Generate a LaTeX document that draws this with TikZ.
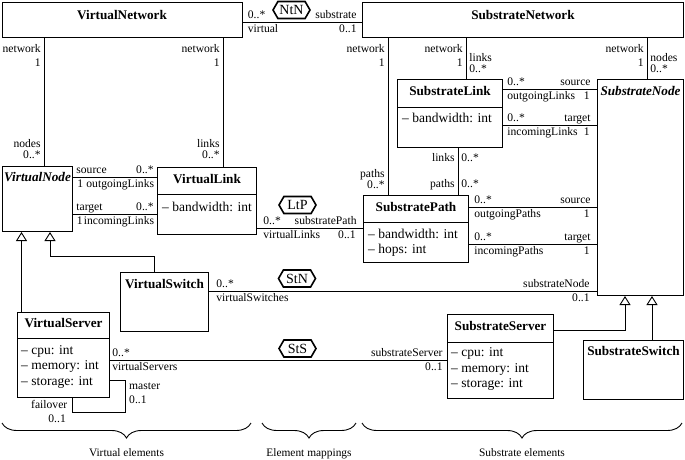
\documentclass[tikz,border=0pt]{standalone}
\usepackage{fontspec}
\setmainfont{Liberation Serif}
\usetikzlibrary{positioning,arrows.meta,shapes.symbols,decorations.pathreplacing,calc}

\begin{document}
\begin{tikzpicture}[
    x=1pt, y=-1pt,
    cls/.style={draw, line width=1pt, inner sep=0pt, anchor=north west},
    clsname/.style={font=\fontsize{13.2}{15}\selectfont\bfseries, anchor=base, inner sep=0pt},
    absname/.style={font=\fontsize{13.2}{15}\selectfont\bfseries\itshape, anchor=base, inner sep=0pt},
    attr/.style={font=\fontsize{13.5}{15.5}\selectfont, align=left, anchor=north west, inner sep=0pt},
    divider/.style={line width=0.9pt},
    assoc/.style={line width=0.8pt},
    gen/.style={line width=0.9pt, -{Triangle[open, width=11pt, length=9pt]}},
    maptag/.style={draw, line width=1.6pt, shape=signal, signal to=west and east, signal pointer angle=120, minimum width=37pt, minimum height=17pt, inner xsep=1pt, inner ysep=0pt, font=\fontsize{14}{16}\selectfont},
    lab/.style={font=\fontsize{11.6}{13}\selectfont, inner sep=0pt},
    su/.style={lab, pos=0, anchor=base west, shift={(#1,3.5pt)}}, su/.default=5pt,
    sd/.style={lab, pos=0, anchor=base west, shift={(#1,-10pt)}}, sd/.default=5pt,
    tu/.style={lab, pos=1, anchor=base east, shift={(-#1,3.5pt)}}, tu/.default=5pt,
    td/.style={lab, pos=1, anchor=base east, shift={(-#1,-10pt)}}, td/.default=5pt,
    topl/.style={lab, pos=0, anchor=base east, shift={(-3pt,#1)}},
    topr/.style={lab, pos=0, anchor=base west, shift={(3pt,#1)}},
    botl/.style={lab, pos=1, anchor=base east, shift={(-3pt,#1)}},
    botr/.style={lab, pos=1, anchor=base west, shift={(3pt,#1)}},
    groupbrace/.style={decorate, decoration={brace, mirror, amplitude=15pt}, line width=0.9pt},
    grouplabel/.style={font=\fontsize{11.4}{13}\selectfont, anchor=base, inner sep=0pt},
]
\useasboundingbox (0,0) rectangle (685,459);

% Virtual classes
\node[cls, minimum width=240pt, minimum height=35pt] (vnet) at (1.5,2) {};
\node[clsname] (vnetName) at ([yshift=-17pt]vnet.north) {VirtualNetwork};

\node[cls, minimum width=70pt, minimum height=65pt] (vnode) at (2,166) {};
\node[absname] (vnodeName) at ([yshift=-15.7pt]vnode.north) {VirtualNode};

\node[cls, minimum width=99pt, minimum height=67pt] (vlink) at (157,167) {};
\node[clsname] (vlinkName) at ([yshift=-16.3pt]vlink.north) {VirtualLink};
\draw[divider] ([yshift=-27pt]vlink.north west) -- ([yshift=-27pt]vlink.north east);
\node[attr] (vlinkAttr) at ([shift={(5pt,-34.6pt)}]vlink.north west) {-- bandwidth: int};

\node[cls, minimum width=88pt, minimum height=59pt] (vswitch) at (120,272) {};
\node[clsname] (vswitchName) at ([yshift=-16.3pt]vswitch.north) {VirtualSwitch};

\node[cls, minimum width=92pt, minimum height=85pt] (vserver) at (17,312) {};
\node[clsname] (vserverName) at ([yshift=-15.7pt]vserver.north) {VirtualServer};
\draw[divider] ([yshift=-26pt]vserver.north west) -- ([yshift=-26pt]vserver.north east);
\node[attr] (vserverAttr) at ([shift={(4pt,-33pt)}]vserver.north west) {-- cpu: int\\-- memory: int\\-- storage: int};

% Substrate classes
\node[cls, minimum width=321pt, minimum height=35pt] (snet) at (362,2) {};
\node[clsname] (snetName) at ([yshift=-17.3pt]snet.north) {SubstrateNetwork};

\node[cls, minimum width=105pt, minimum height=68pt] (slink) at (397,79) {};
\node[clsname] (slinkName) at ([yshift=-16pt]slink.north) {SubstrateLink};
\draw[divider] ([yshift=-28pt]slink.north west) -- ([yshift=-28pt]slink.north east);
\node[attr] (slinkAttr) at ([shift={(5pt,-33.6pt)}]slink.north west) {-- bandwidth: int};

\node[cls, minimum width=86pt, minimum height=216pt] (snode) at (597,79) {};
\node[absname] (snodeName) at ([yshift=-16pt]snode.north) {SubstrateNode};

\node[cls, minimum width=105pt, minimum height=67pt] (spath) at (363,195) {};
\node[clsname] (spathName) at ([yshift=-16.7pt]spath.north) {SubstratePath};
\draw[divider] ([yshift=-27pt]spath.north west) -- ([yshift=-27pt]spath.north east);
\node[attr, font=\fontsize{13.5}{14.8}\selectfont] (spathAttr) at ([shift={(5pt,-34.2pt)}]spath.north west) {-- bandwidth: int\\-- hops: int};

\node[cls, minimum width=106pt, minimum height=84pt] (sserver) at (447,314) {};
\node[clsname] (sserverName) at ([yshift=-16pt]sserver.north) {SubstrateServer};
\draw[divider] ([yshift=-28pt]sserver.north west) -- ([yshift=-28pt]sserver.north east);
\node[attr] (sserverAttr) at ([shift={(4pt,-33.6pt)}]sserver.north west) {-- cpu: int\\-- memory: int\\-- storage: int};

\node[cls, minimum width=100pt, minimum height=59pt] (sswitch) at (583,340) {};
\node[clsname] (sswitchName) at ([yshift=-15.7pt]sswitch.north) {SubstrateSwitch};

% Mapping tags
\node[maptag] (ntn) at (291.5,10) {NtN};
\node[maptag] (ltp) at (297.5,205) {LtP};
\node[maptag] (stn) at (297,278.5) {StN};
\node[maptag] (sts) at (297.5,348.5) {StS};

% Network containment
\draw[assoc] (vnet.south -| 44,0) -- (vnode.north -| 44,0)
    node[topl=-14.5pt] {network} node[topl=-28pt] {1}
    node[botl=19pt] {nodes} node[botl=8pt] {0..*};
\draw[assoc] (vnet.south -| 223,0) -- (vlink.north -| 223,0)
    node[topl=-14.5pt] {network} node[topl=-28pt] {1}
    node[botl=19.5pt] {links} node[botl=8.5pt] {0..*};
\draw[assoc] (snet.south -| 388,0) -- (spath.north -| 388,0)
    node[topl=-14.5pt] {network} node[topl=-28pt] {1}
    node[botl=18pt] {paths} node[botl=7pt] {0..*};
\draw[assoc] (snet.south -| 466,0) -- (slink.north -| 466,0)
    node[topl=-14.5pt] {network} node[topl=-28pt] {1}
    node[botr=18pt] {links} node[botr=6.5pt] {0..*};
\draw[assoc] (snet.south -| 647,0) -- (snode.north -| 647,0)
    node[topl=-14.5pt] {network} node[topl=-28pt] {1}
    node[botr=18pt] {nodes} node[botr=6.5pt] {0..*};
\draw[assoc] (slink.south -| 458,0) -- (spath.north -| 458,0)
    node[topl=-13pt] {links} node[topr=-13pt] {0..*}
    node[botl=8pt] {paths} node[botr=8pt] {0..*};

% Associations
\draw[assoc] (vnet.east |- 0,22) -- (snet.west |- 0,22)
    node[su] {0..*} node[sd] {virtual} node[tu] {substrate} node[td] {0..1};
\draw[assoc] (vnode.east |- 0,177) -- (vlink.west |- 0,177)
    node[su=3pt] {source} node[sd=4pt] {1} node[tu=3pt] {0..*} node[td=2.5pt] {outgoingLinks};
\draw[assoc] (vnode.east |- 0,214) -- (vlink.west |- 0,214)
    node[su=3pt] {target} node[sd=3.5pt] {1} node[tu=3pt] {0..*} node[td=2.5pt] {incomingLinks};
\draw[assoc] (slink.east |- 0,89) -- (snode.west |- 0,89)
    node[su=4pt] {0..*} node[sd=4pt] {outgoingLinks} node[tu=6pt] {source} node[td=7pt] {1};
\draw[assoc] (slink.east |- 0,125) -- (snode.west |- 0,125)
    node[su=4pt] {0..*} node[sd=4pt] {incomingLinks} node[tu=6pt] {target} node[td=7pt] {1};
\draw[assoc] (spath.east |- 0,207) -- (snode.west |- 0,207)
    node[su] {0..*} node[sd] {outgoingPaths} node[tu=6pt] {source} node[td=7pt] {1};
\draw[assoc] (spath.east |- 0,244) -- (snode.west |- 0,244)
    node[su] {0..*} node[sd] {incomingPaths} node[tu=6pt] {target} node[td=7pt] {1};
\draw[assoc] (vlink.east |- 0,228) -- (spath.west |- 0,228)
    node[su=6pt] {0..*} node[sd=6pt] {virtualLinks} node[tu=6pt] {substratePath} node[td=7pt] {0..1};
\draw[assoc] (vswitch.east |- 0,291) -- (snode.west |- 0,291)
    node[su=7pt] {0..*} node[sd=7pt] {virtualSwitches} node[tu=7pt] {substrateNode} node[td=7pt] {0..1};
\draw[assoc] (vserver.east |- 0,360) -- (sserver.west |- 0,360)
    node[su=2pt] {0..*} node[sd=2pt] {virtualServers} node[tu=4pt] {substrateServer} node[td=4pt] {0..1};

% failover / master
\draw[assoc] (vserver.east |- 0,380) -| ++(15,32) -| (vserver.south -| 72,0);
\node[lab, anchor=base west] (masterRole) at ([shift={(19pt,9pt)}]vserver.south east) {master};
\node[lab, anchor=base west] (masterMult) at ([shift={(19pt,-5pt)}]vserver.south east) {0..1};
\node[lab, anchor=base east] (failoverRole) at ([shift={(50.5pt,-10pt)}]vserver.south west) {failover};
\node[lab, anchor=base east] (failoverMult) at ([shift={(49pt,-24pt)}]vserver.south west) {0..1};

% Generalizations
\draw[gen] (vserver.north -| 21.5,0) -- (vnode.south -| 21.5,0);
\draw[gen] (vswitch.north -| 154,0) -- ++(0,-16) -| (vnode.south -| 50,0);
\draw[gen] (sserver.east |- 0,330) -| (snode.south -| 625,0);
\draw[gen] (sswitch.north -| 652,0) -- (snode.south -| 652,0);

% Groups
\draw[groupbrace] (2,423) -- (251,423);
\draw[groupbrace] (262,423) -- (356,423);
\draw[groupbrace] (362,423) -- (682,423);
\node[grouplabel] (virtGroup) at (126.5,456) {Virtual elements};
\node[grouplabel] (mapGroup) at (309,456) {Element mappings};
\node[grouplabel] (subGroup) at (522,456) {Substrate elements};

\end{tikzpicture}
\end{document}
